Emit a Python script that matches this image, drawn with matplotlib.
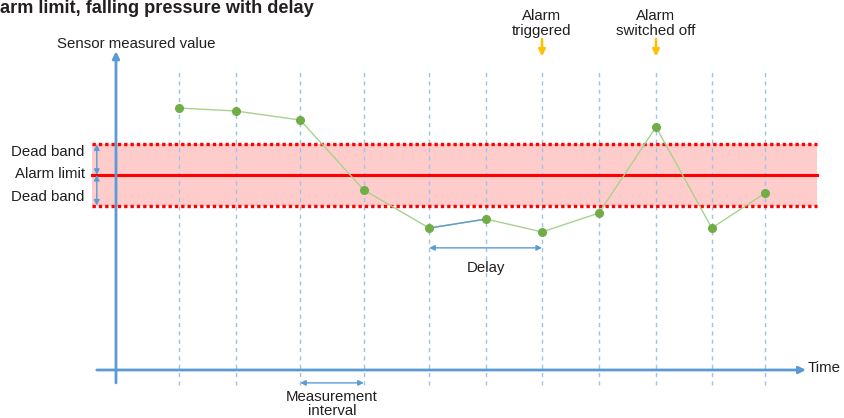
import numpy as np
import matplotlib.pyplot as plt

# ==========================================
# Data
# ==========================================
# measurement times (time units) and sensor readings
times = [1.05, 2.0, 3.07, 4.13, 5.22, 6.17, 7.1, 8.05, 9.0, 9.93, 10.82]
values = [8.73, 8.63, 8.33, 6.0, 4.73, 5.03, 4.6, 5.23, 8.1, 4.73, 5.9]

alarm_limit = 6.5
dead_band = 1.02

trigger_idx = 6      # alarm triggered at this sample
switch_off_idx = 8   # alarm switched off at this sample
delay_start_idx = 4  # delay starts here
interval_idx = (2, 3)

# title as visible in the (cropped) source image
title = 'arm limit, falling pressure with delay'

# ==========================================
# Styling
# ==========================================
plt.rcParams['font.family'] = ['Liberation Sans', 'DejaVu Sans']
blue = '#5b9bd5'
light_blue = '#9dc3e6'
green_line = '#a9d18e'
green_pt = '#70ad47'
red = '#ff0000'
orange = '#ffc000'
txt = '#231f20'

fig = plt.figure(figsize=(8.45, 4.18), dpi=100)
ax = fig.add_axes([0, 0, 1, 1])
ax.set_xlim(-1.933, 12.15)
ax.set_ylim(-1.6, 12.33)
ax.axis('off')

# Band and alarm limit
ax.fill_between([-0.4, 11.68], alarm_limit - dead_band, alarm_limit + dead_band,
                color='#ffcccc', lw=0, zorder=1)
ax.plot([-0.4, 11.68], [alarm_limit, alarm_limit], color=red, lw=2.2, zorder=3)
for yy in (alarm_limit - dead_band, alarm_limit + dead_band):
    ax.plot([-0.4, 11.68], [yy, yy], color=red, lw=2.4, ls=(0, (1, 0.9)), zorder=3)

# vertical measurement grid
for t in times:
    ax.plot([t, t], [-0.5, 10.0], color=light_blue, lw=1, ls=(0, (3, 3)), zorder=2)

# axes arrows
ax.annotate('', xy=(0, 10.62), xytext=(0, -0.43),
            arrowprops=dict(arrowstyle='-|>', color=blue, lw=2, mutation_scale=10,
                            shrinkA=0, shrinkB=0), zorder=4)
ax.annotate('', xy=(11.5, 0), xytext=(-0.32, 0),
            arrowprops=dict(arrowstyle='-|>', color=blue, lw=2, mutation_scale=10,
                            shrinkA=0, shrinkB=0), zorder=4)

# data line
ax.plot(times, values, color=green_line, lw=1, zorder=5)
ax.plot(times[delay_start_idx:delay_start_idx + 2], values[delay_start_idx:delay_start_idx + 2],
        color=blue, lw=1, zorder=5)
ax.plot(times, values, ls='none', marker='o', ms=5.5, color=green_pt, zorder=6)

# dead band arrows
dbl = dict(arrowstyle='<|-|>', color=blue, lw=1, mutation_scale=8, shrinkA=0, shrinkB=0)
ax.annotate('', xy=(-0.32, alarm_limit + dead_band), xytext=(-0.32, alarm_limit), arrowprops=dbl)
ax.annotate('', xy=(-0.32, alarm_limit - dead_band), xytext=(-0.32, alarm_limit), arrowprops=dbl)

fs = 10.8
ax.text(-0.52, alarm_limit + 0.78, 'Dead band', ha='right', va='center', fontsize=fs, color=txt)
ax.text(-0.52, alarm_limit + 0.03, 'Alarm limit', ha='right', va='center', fontsize=fs, color=txt)
ax.text(-0.52, alarm_limit - 0.75, 'Dead band', ha='right', va='center', fontsize=fs, color=txt)

ax.text(0.33, 10.86, 'Sensor measured value', ha='center', va='center', fontsize=fs, color=txt)
ax.text(11.53, 0.07, 'Time', ha='left', va='center', fontsize=fs, color=txt)

# alarm annotations
for idx, label in ((trigger_idx, 'Alarm\ntriggered'), (switch_off_idx, 'Alarm\nswitched off')):
    ax.text(times[idx], 11.55, label, ha='center', va='center', fontsize=fs, color=txt,
            linespacing=1.1)
    ax.annotate('', xy=(times[idx], 10.45), xytext=(times[idx], 11.03),
                arrowprops=dict(arrowstyle='-|>', color=orange, lw=1.8, mutation_scale=10,
                                shrinkA=0, shrinkB=0))

# delay
ax.annotate('', xy=(times[trigger_idx], 4.07), xytext=(times[delay_start_idx], 4.07),
            arrowprops=dbl)
ax.text((times[delay_start_idx] + times[trigger_idx]) / 2, 3.4, 'Delay',
        ha='center', va='center', fontsize=fs, color=txt)

# measurement interval
i0, i1 = interval_idx
ax.annotate('', xy=(times[i1], -0.43), xytext=(times[i0], -0.43), arrowprops=dbl)
ax.text((times[i0] + times[i1]) / 2, -1.15, 'Measurement\ninterval', ha='center',
        va='center', fontsize=fs, color=txt, linespacing=1.0)

# title
ax.text(0.0, 0.979, title, transform=ax.transAxes, ha='left', va='center', fontsize=13.1,
        fontweight='bold', color=txt)

fig.savefig('out.png', dpi=100)
